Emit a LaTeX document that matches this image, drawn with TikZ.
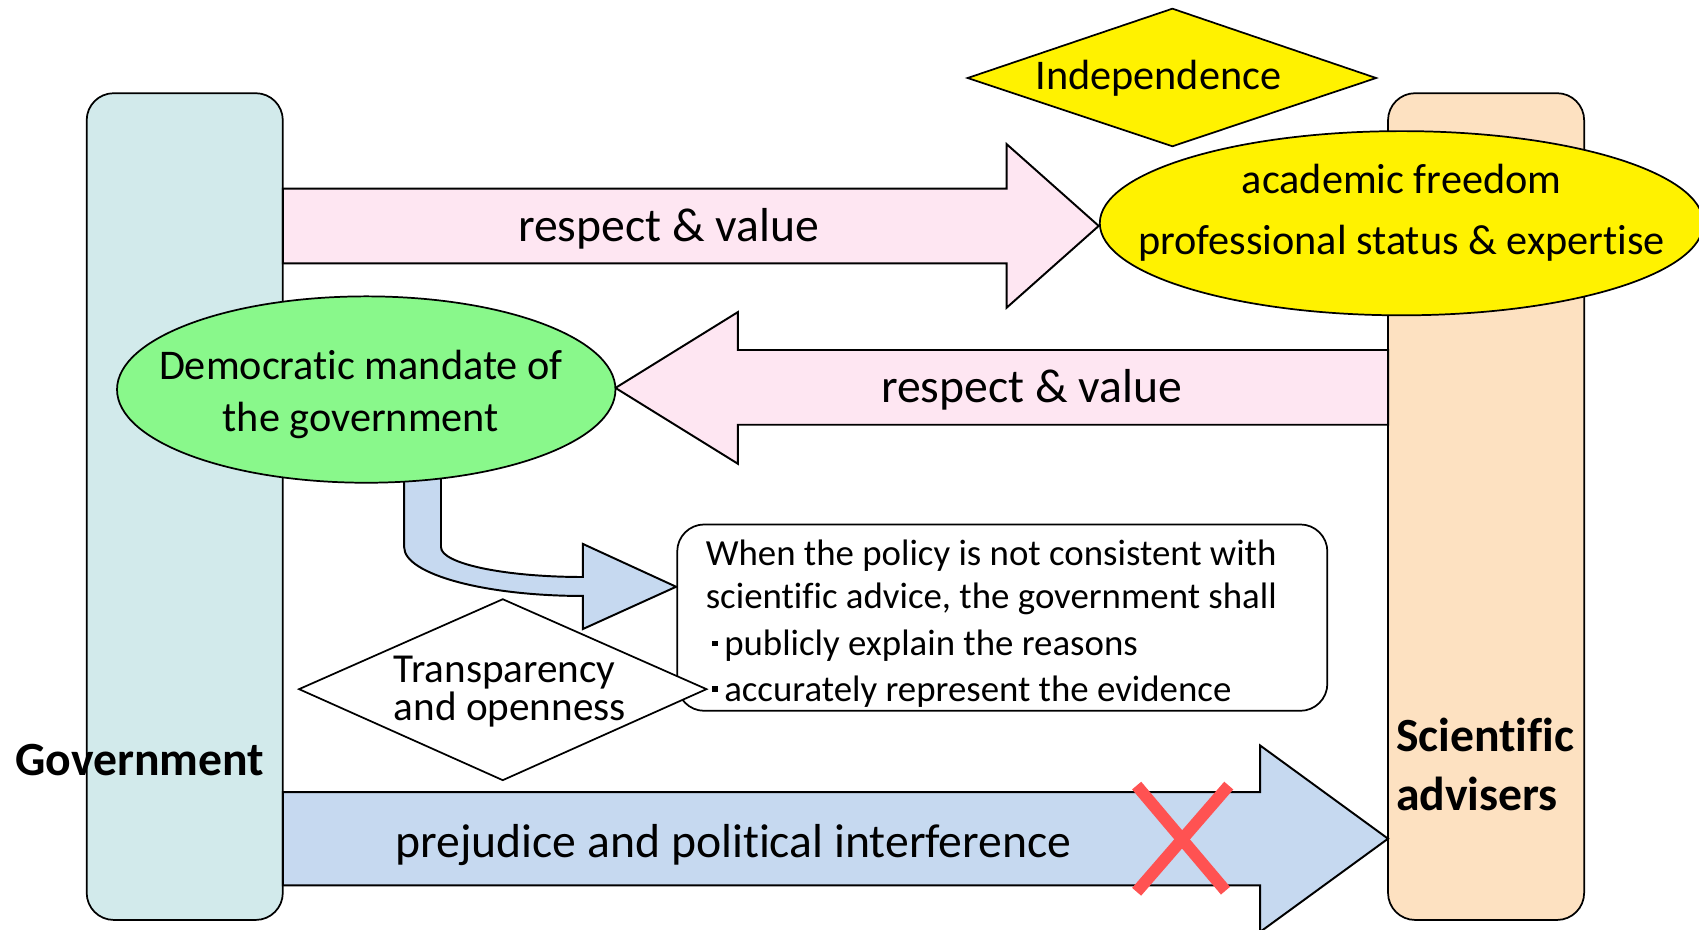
\documentclass[tikz,border=0pt]{standalone}
\usepackage{fontspec}
\setmainfont{Carlito}[Ligatures=NoCommon]
\usetikzlibrary{shapes.geometric}
\definecolor{govfill}{RGB}{210,234,235}
\definecolor{scifill}{RGB}{253,225,193}
\definecolor{pinkfill}{RGB}{254,230,242}
\definecolor{bluefill}{RGB}{198,217,240}
\definecolor{greenfill}{RGB}{137,248,139}
\definecolor{redx}{RGB}{255,82,82}
\begin{document}
\begin{tikzpicture}[x=0.5pt,y=-0.5pt,line join=miter,
  pillar/.style={draw=black,line width=0.8pt,rounded corners=12.5pt,minimum width=90.5pt,minimum height=381.5pt,inner sep=0pt},
  blockarrow/.style={draw=black,line width=0.9pt},
  oval/.style={ellipse,draw=black,line width=0.8pt,inner sep=0pt},
  lbl/.style={inner sep=0pt,text height=1.3em,text depth=0pt},
  big/.style={lbl,font=\fontsize{22}{26}\selectfont},
  mid/.style={lbl,font=\fontsize{19.5}{23}\selectfont},
  small/.style={lbl,font=\fontsize{17}{21}\selectfont,anchor=west}]
\useasboundingbox (0,0) rectangle (1568,858);
\clip (0,0) rectangle (1568,858);
\newcommand{\sqbul}{\makebox[8.5pt][c]{\rule[4.2pt]{2.6pt}{2.6pt}}}
% pillars
\node[pillar,fill=govfill] (gov) at (170.5,467.5) {};
\node[pillar,fill=scifill] (sci) at (1371.5,467.5) {};
% curved arrow (behind green oval)
\draw[blockarrow,fill=bluefill] (373,441) -- (373,505) .. controls (373,529.8) and (446.9,550) .. (538,550)
  -- (538,580.5) -- (624,541.5) -- (538,502) -- (538,532.5)
  .. controls (465.7,532.5) and (407,520.2) .. (407,505) -- (407,441) -- cycle;
% top arrow
\draw[blockarrow,fill=pinkfill] (261,174) -- (929,174) -- (929,133) -- (1014,208.5) -- (929,284) -- (929,243) -- (261,243) -- cycle;
% second arrow
\draw[blockarrow,fill=pinkfill] (1281,323) -- (681,323) -- (681,288) -- (568,358) -- (681,428) -- (681,392) -- (1281,392) -- cycle;
% bottom arrow
\draw[blockarrow,fill=bluefill] (261,731) -- (1163,731) -- (1163,688) -- (1281,774) -- (1163,860) -- (1163,817) -- (261,817) -- cycle;
% ovals
\node[oval,fill=greenfill,minimum width=230pt,minimum height=86pt] (dem) at (338,359.5) {};
\node[oval,fill=yellow,minimum width=278.5pt,minimum height=85pt] (acad) at (1293.5,206) {};
% independence diamond
\draw[line width=0.8pt,fill=yellow] (893,72) -- (1082,8) -- (1270,72) -- (1082,135) -- cycle;
% advice box
\node[draw=black,line width=0.8pt,fill=white,rounded corners=12.5pt,minimum width=300pt,minimum height=86pt,inner sep=0pt] (adv) at (925,570) {};
% transparency diamond
\draw[line width=0.8pt,fill=white] (276,636) -- (464,553) -- (652,636) -- (464,720) -- cycle;
% red cross
\draw[redx,line width=5.5pt] (1049,725) -- (1131,822);
\draw[redx,line width=5.5pt] (1134,725) -- (1049,823);
% texts
\node[big] (t1) at (617,210) {respect \& value};
\node[big] (t2) at (952,358) {respect \& value};
\node[big] (t3) at (677,778) {prejudice and political interference};
\node[big,font=\fontsize{22}{26}\selectfont\bfseries] (tg) at (129,703) {Government};
\node[big,font=\fontsize{22}{26}\selectfont\bfseries,anchor=west] (ts1) at (1288,681) {Scientific};
\node[big,font=\fontsize{22}{26}\selectfont\bfseries,anchor=west] (ts2) at (1288,735) {advisers};
\node[mid] (ti) at (1069,70) {Independence};
\node[mid] (ta1) at (1293.5,166) {academic freedom};
\node[mid] (ta2) at (1293.5,222) {professional status \& expertise};
\node[mid] (td1) at (333,337) {Democratic mandate of};
\node[mid] (td2) at (333,385) {the government};
\node[lbl,font=\fontsize{19}{22}\selectfont,anchor=west] (tt1) at (363,617) {Transparency};
\node[lbl,font=\fontsize{19}{22}\selectfont,anchor=west] (tt2) at (363,652) {and openness};
\node[small] (b1) at (651,509) {When the policy is not consistent with};
\node[small] (b2) at (651,549) {scientific advice, the government shall};
\node[small] (b3) at (651,592) {\sqbul publicly explain the reasons};
\node[small] (b4) at (651,634) {\sqbul accurately represent the evidence};
\end{tikzpicture}
\end{document}
